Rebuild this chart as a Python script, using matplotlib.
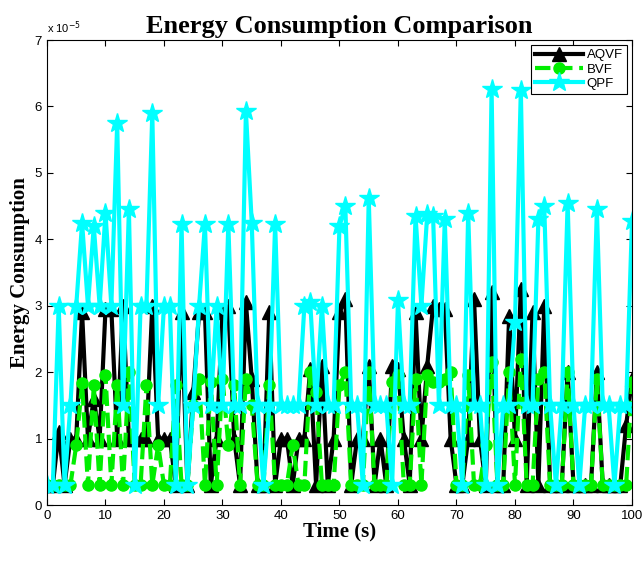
import numpy as np
import matplotlib
matplotlib.use('Agg')
import matplotlib.pyplot as plt
from matplotlib.ticker import FuncFormatter

# values in units of 1e-5, one per second (0..100)
t = np.arange(0, 101)
aqvf = [0.3, 0.3, 1.1, 0.3, 1.0, 1.0, 2.9, 1.0, 1.6, 1.0,
        2.95, 2.95, 1.0, 3.0, 1.0, 1.0, 1.0, 1.0, 3.0, 1.0,
        1.0, 1.0, 0.3, 2.9, 0.3, 1.7, 2.9, 2.9, 0.3, 1.0,
        2.9, 3.0, 1.0, 0.3, 3.05, 1.9, 0.3, 0.3, 2.9, 0.3,
        1.0, 1.0, 0.3, 1.0, 1.0, 2.05, 0.3, 2.1, 0.3, 1.0,
        2.9, 3.1, 0.3, 1.0, 1.0, 2.1, 0.3, 1.0, 0.3, 2.1,
        2.05, 1.0, 0.3, 2.9, 1.0, 2.1, 3.0, 2.95, 2.95, 1.0,
        0.3, 0.3, 1.0, 3.1, 1.0, 0.3, 3.2, 0.3, 0.3, 2.85,
        1.0, 3.25, 0.3, 2.9, 0.3, 3.0, 0.3, 0.3, 0.3, 2.0,
        0.3, 0.3, 0.3, 0.3, 2.0, 0.3, 0.3, 0.3, 0.3, 1.2,
        1.9]
bvf = [0.3, 0.3, 0.3, 0.3, 0.3, 0.9, 1.83, 0.3, 1.8, 0.3,
       1.95, 0.3, 1.8, 0.3, 2.0, 0.3, 0.3, 1.8, 0.3, 0.9,
       0.3, 0.3, 1.8, 0.3, 0.3, 1.5, 1.9, 0.3, 1.85, 0.3,
       1.9, 0.9, 1.8, 0.3, 1.9, 1.5, 0.3, 0.3, 1.8, 0.3,
       0.3, 0.3, 0.9, 0.3, 0.3, 2.0, 1.7, 0.3, 0.3, 0.3,
       1.8, 2.0, 0.3, 0.3, 0.3, 2.0, 0.3, 0.3, 0.3, 1.85,
       1.95, 0.3, 0.3, 1.9, 0.3, 1.95, 1.85, 1.85, 1.9, 2.0,
       0.3, 0.3, 1.95, 0.3, 0.3, 0.9, 2.15, 0.3, 0.3, 2.0,
       0.3, 2.2, 0.3, 0.3, 1.9, 2.0, 0.3, 0.3, 0.3, 2.0,
       0.3, 0.3, 0.3, 0.3, 1.9, 0.3, 0.3, 0.3, 0.3, 0.3,
       1.85]
qpf = [0.3, 0.3, 3.0, 0.3, 1.5, 3.0, 4.25, 3.0, 4.2, 3.0,
       4.4, 3.0, 5.75, 1.5, 4.45, 0.3, 3.0, 3.0, 5.9, 1.5,
       3.0, 3.0, 0.3, 4.23, 0.3, 1.5, 3.0, 4.23, 1.5, 3.0,
       1.5, 4.23, 1.5, 1.5, 5.93, 4.25, 1.5, 0.3, 1.5, 4.23,
       1.5, 1.5, 1.5, 1.5, 3.0, 3.05, 1.5, 3.0, 1.5, 1.5,
       4.2, 4.5, 1.5, 1.5, 0.3, 4.62, 1.5, 1.5, 1.5, 0.3,
       3.08, 1.5, 1.5, 4.35, 3.0, 4.38, 4.35, 1.5, 4.3, 1.5,
       1.5, 0.3, 4.4, 1.5, 1.5, 0.3, 6.27, 0.3, 1.5, 1.5,
       2.75, 6.25, 1.5, 1.5, 4.3, 4.5, 1.5, 0.3, 1.5, 4.55,
       1.5, 0.3, 1.5, 1.5, 4.45, 1.5, 1.5, 0.3, 1.5, 1.5,
       4.27]
scale = 1e-5

fig = plt.figure(figsize=(6.42, 5.62), dpi=100)
ax = fig.add_axes([0.0732, 0.1014, 0.9112, 0.8274])

ax.plot(t, np.array(aqvf) * scale, color='black', lw=3, marker='^', ms=10, label='AQVF')
ax.plot(t, np.array(bvf) * scale, color='#00ee00', lw=3, ls='--', marker='o', ms=8,
        mfc='#00ee00', label='BVF')
ax.plot(t, np.array(qpf) * scale, color='cyan', lw=3, marker='*', ms=15, label='QPF')

ax.set_xlim(0, 100)
ax.set_ylim(0, 7e-5)
ax.set_xticks(np.arange(0, 101, 10))
ax.set_yticks(np.arange(0, 8) * scale)
ax.yaxis.set_major_formatter(FuncFormatter(lambda v, p: '%g' % round(v / scale, 6)))
ax.tick_params(direction='in', top=True, right=True, labelsize=9.5, length=4)
for lab in ax.get_xticklabels() + ax.get_yticklabels():
    lab.set_family('Liberation Sans')
ax.text(0.0, 1.008, r'x 10$^{-5}$', transform=ax.transAxes, fontsize=8,
        family='Liberation Sans', va='bottom', ha='left')

ax.set_title('Energy Consumption Comparison', family='Liberation Serif',
             fontweight='bold', fontsize=19, pad=5)
ax.set_xlabel('Time (s)', family='Liberation Serif', fontweight='bold', fontsize=15, labelpad=0)
ax.set_ylabel('Energy Consumption', family='Liberation Serif', fontweight='bold', fontsize=15,
              labelpad=3)

leg = ax.legend(loc='upper right', prop={'family': 'Liberation Sans', 'size': 9.5},
                fancybox=False, framealpha=1, edgecolor='black', handlelength=3.6,
                borderpad=0.3, labelspacing=0.15, handletextpad=0.3, borderaxespad=0.4)
leg.get_frame().set_linewidth(0.8)

fig.savefig('out.png', dpi=100)
